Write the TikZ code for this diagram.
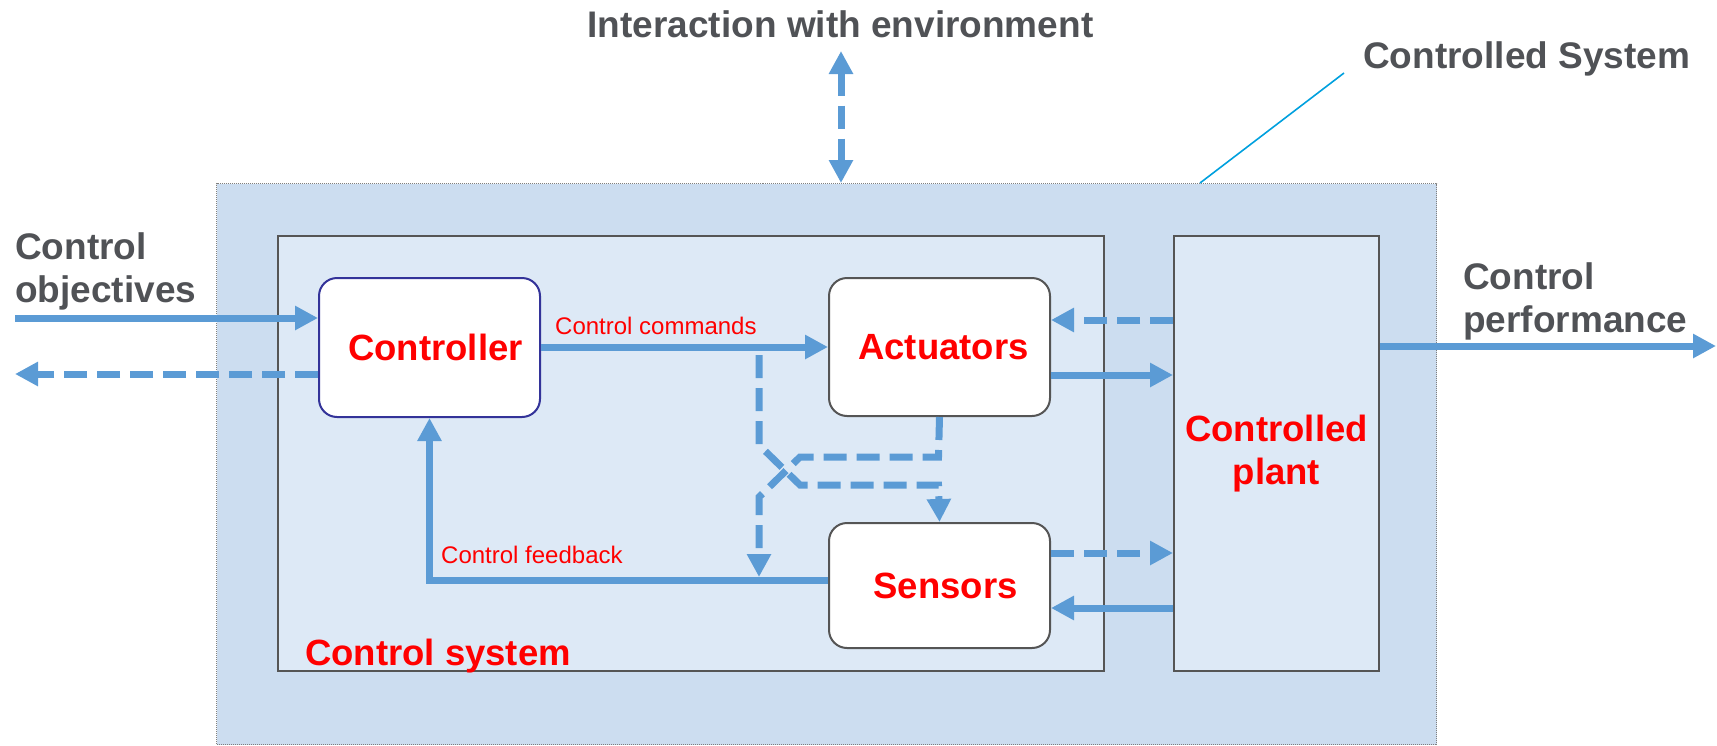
\documentclass[tikz,border=0pt]{standalone}
\usepackage{fontspec}
\setmainfont{Liberation Sans}
\usetikzlibrary{arrows.meta}
\definecolor{outerfill}{RGB}{204,221,240}
\definecolor{innerfill}{RGB}{221,233,246}
\definecolor{arrowblue}{RGB}{91,155,213}
\definecolor{labelgray}{RGB}{80,82,86}
\definecolor{boxgray}{RGB}{85,85,85}
\definecolor{ctrlblue}{RGB}{51,51,153}
\definecolor{leadercyan}{RGB}{0,160,222}
\tikzset{
  graylabel/.style={font=\fontsize{37}{43}\selectfont\bfseries, text=labelgray, inner sep=0pt},
  redbig/.style={font=\fontsize{36.5}{43}\selectfont\bfseries, text=red},
  redsmall/.style={font=\fontsize{24}{28}\selectfont, text=red, inner sep=0pt},
  framebox/.style={draw=boxgray, line width=2pt, fill=innerfill, inner sep=0pt, anchor=north west},
  unitbox/.style={redbig, draw=boxgray, line width=2pt, fill=white, rounded corners=18pt, minimum width=221pt, inner sep=0pt, anchor=north west},
  flow/.style={draw=arrowblue, line width=7pt, -{Triangle[length=23pt,width=23pt]}},
  dflow/.style={flow, dash pattern=on 23pt off 10pt},
  dflowboth/.style={dflow, {Triangle[length=23pt,width=23pt]}-{Triangle[length=23pt,width=23pt]}},
}
\begin{document}
\begin{tikzpicture}[x=1pt,y=-1pt]
\useasboundingbox (0,0) rectangle (1717,745);
% containers
\node[draw=gray, dash pattern=on 1pt off 1pt, line width=1pt, fill=outerfill, minimum width=1220pt, minimum height=561pt, inner sep=0pt, anchor=north west] (outer) at (216,183) {};
\node[framebox, minimum width=826pt, minimum height=435pt] (csys) at (277,235) {};
\node[framebox, minimum width=205pt, minimum height=435pt, redbig, align=center] (plant) at (1173,235) {Controlled\\plant};
% units
\node[unitbox, draw=ctrlblue, minimum height=139pt] (ctrl) at (318,277) {\hspace*{12pt}Controller};
\node[unitbox, minimum height=138pt] (act) at (828,277) {\hspace*{8pt}Actuators};
\node[unitbox, minimum height=125pt] (sens) at (828,522) {\hspace*{12pt}Sensors};
% labels
\node[redbig, inner sep=0pt, anchor=base west] (csyslabel) at (305,665) {Control system};
\node[redsmall, anchor=base west] (cmdlabel) at (555,334) {Control commands};
\node[redsmall, anchor=base west] (fblabel) at (441,563) {Control feedback};
\node[graylabel, anchor=base] (envlabel) at (840.5,37) {Interaction with environment};
\node[graylabel, anchor=base west] (cslabel) at (1363,68) {Controlled System};
\node[graylabel, anchor=base west, align=left] (objlabel) at (15,302) {Control\\objectives};
\node[graylabel, anchor=base west, align=left] (perflabel) at (1463,332) {Control\\performance};
% free ends
\coordinate (objIn) at (15,318);
\coordinate (objOut) at (15,374);
\coordinate (perfEnd) at (1716,346);
\coordinate (envTop) at (841,51);
\coordinate (cmdBranch) at (759,355);
\coordinate (leadTop) at (1344,73);
\coordinate (leadBot) at (1200,183);
% leader
\draw[leadercyan, line width=1.6pt] (leadTop) -- (leadBot);
% environment
\draw[dflowboth] (envTop) -- (envTop |- outer.north);
% objectives
\draw[flow] (objIn) -- (ctrl.west |- objIn);
\draw[dflow] (ctrl.west |- objOut) -- (objOut);
% commands
\draw[flow] (ctrl.east |- 0,347) -- (act.west |- 0,347);
% crossing dashed paths
\draw[dflow] (cmdBranch) -- (759,445) -- (800,485) -- (938.5,485) -- (sens.north);
\draw[dflow] (act.south) -- (938.5,457) -- (800,457) -- (759,497) -- (759,577);
% feedback
\draw[flow] (sens.west |- 0,580) -| (ctrl.south);
% plant links
\draw[dflow] (plant.west |- 0,320) -- (act.east |- 0,320);
\draw[flow] (act.east |- 0,375) -- (plant.west |- 0,375);
\draw[dflow] (sens.east |- 0,553) -- (plant.west |- 0,553);
\draw[flow] (plant.west |- 0,608) -- (sens.east |- 0,608);
% performance
\draw[flow] (plant.east |- perfEnd) -- (perfEnd);
\end{tikzpicture}
\end{document}
